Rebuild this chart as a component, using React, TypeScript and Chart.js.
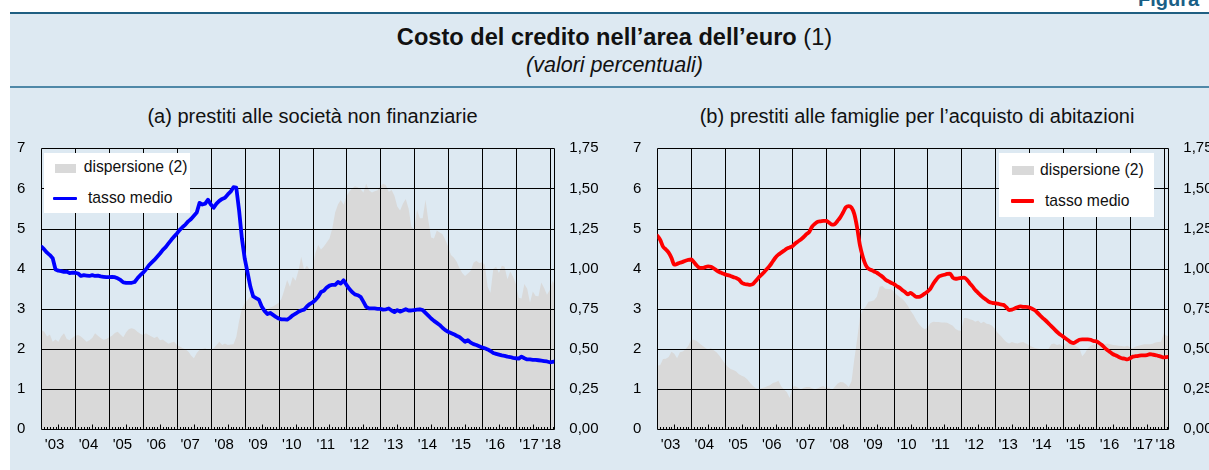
import React, { useEffect, useRef } from 'react';
import { Chart, registerables } from 'chart.js';

Chart.register(...registerables);

// ---------------- DATA ----------------
const START_YEAR = 2003; // first month: January 2003, monthly through March 2018
const AXIS_END = 2018 + 1.6 / 12;

const yearLabels = ["'03", "'04", "'05", "'06", "'07", "'08", "'09", "'10", "'11", "'12", "'13", "'14", "'15", "'16", "'17", "'18"];
const leftTicks = [0, 1, 2, 3, 4, 5, 6, 7];
const rightTicks = [0, 0.25, 0.5, 0.75, 1, 1.25, 1.5, 1.75];

// (a) non-financial corporations: average rate (%)
const nfcRate = [
  4.55, 4.48, 4.40, 4.34, 4.26, 3.98, 3.95, 3.94, 3.92, 3.93, 3.89, 3.90,
  3.90, 3.88, 3.82, 3.84, 3.83, 3.82, 3.84, 3.82, 3.83, 3.81, 3.80, 3.79,
  3.79, 3.80, 3.79, 3.76, 3.72, 3.66, 3.65, 3.65, 3.65, 3.67, 3.76, 3.84,
  3.90, 3.98, 4.08, 4.15, 4.22, 4.30, 4.38, 4.47, 4.54, 4.63, 4.72, 4.80,
  4.88, 4.97, 5.04, 5.10, 5.18, 5.24, 5.32, 5.40, 5.64, 5.60, 5.62, 5.72,
  5.60, 5.52, 5.62, 5.69, 5.74, 5.77, 5.85, 5.92, 6.03, 6.02, 5.45, 4.75,
  4.25, 3.90, 3.55, 3.31, 3.27, 3.23, 3.06, 2.95, 2.87, 2.90, 2.85, 2.80,
  2.76, 2.74, 2.74, 2.73, 2.78, 2.84, 2.88, 2.93, 2.96, 2.98, 3.06, 3.12,
  3.16, 3.22, 3.30, 3.42, 3.45, 3.53, 3.58, 3.60, 3.60, 3.67, 3.63, 3.71,
  3.60, 3.50, 3.42, 3.36, 3.34, 3.30, 3.18, 3.05, 3.01, 3.01, 3.01, 3.00,
  3.00, 2.98, 2.99, 3.01, 2.96, 2.92, 2.97, 2.93, 2.96, 2.99, 2.96, 2.96,
  2.97, 2.98, 2.99, 2.97, 2.90, 2.83, 2.76, 2.70, 2.65, 2.60, 2.53, 2.47,
  2.43, 2.40, 2.37, 2.33, 2.30, 2.24, 2.18, 2.22, 2.16, 2.12, 2.10, 2.07,
  2.04, 2.02, 1.99, 1.95, 1.90, 1.88, 1.86, 1.84, 1.83, 1.81, 1.80, 1.78,
  1.77, 1.76, 1.81, 1.77, 1.74, 1.74, 1.73, 1.73, 1.72, 1.71, 1.70, 1.69,
  1.67, 1.68, 1.69,
];

// (a) non-financial corporations: dispersion (right axis)
const nfcDispersion = [
  0.618, 0.608, 0.578, 0.590, 0.545, 0.560, 0.545, 0.578, 0.598, 0.563, 0.555, 0.570,
  0.583, 0.588, 0.578, 0.563, 0.545, 0.555, 0.568, 0.598, 0.583, 0.568, 0.558, 0.563,
  0.573, 0.583, 0.600, 0.608, 0.590, 0.573, 0.605, 0.625, 0.630, 0.623, 0.608, 0.595,
  0.588, 0.598, 0.588, 0.578, 0.568, 0.578, 0.555, 0.560, 0.545, 0.533, 0.540, 0.545,
  0.525, 0.515, 0.505, 0.498, 0.485, 0.460, 0.443, 0.475, 0.495, 0.500, 0.505, 0.495,
  0.495, 0.505, 0.525, 0.545, 0.525, 0.535, 0.525, 0.528, 0.530, 0.575, 0.675, 0.750,
  0.785, 0.805, 0.828, 0.823, 0.810, 0.780, 0.760, 0.745, 0.748, 0.758, 0.765, 0.775,
  0.788, 0.813, 0.868, 0.930, 0.888, 0.950, 0.925, 0.988, 1.075, 0.993, 1.018, 0.993,
  1.003, 1.098, 1.148, 1.120, 1.138, 1.163, 1.188, 1.250, 1.350, 1.400, 1.428, 1.398,
  1.450, 1.480, 1.500, 1.513, 1.508, 1.495, 1.475, 1.530, 1.488, 1.475, 1.483, 1.488,
  1.513, 1.530, 1.520, 1.480, 1.490, 1.455, 1.388, 1.363, 1.405, 1.435, 1.375, 1.263,
  1.243, 1.368, 1.315, 1.315, 1.430, 1.300, 1.195, 1.188, 1.238, 1.225, 1.215, 1.180,
  1.138, 1.085, 1.070, 1.045, 1.005, 0.973, 0.955, 0.970, 0.988, 1.038, 1.050, 1.035,
  1.040, 1.025, 0.888, 0.850, 1.000, 1.013, 0.973, 1.018, 1.013, 0.935, 0.983, 0.950,
  0.905, 0.820, 0.815, 0.905, 0.875, 0.790, 0.858, 0.830, 0.828, 0.915, 0.880, 0.838,
  0.868, 0.925, 0.888,
];

// (b) households for house purchase: average rate (%)
const hhRate = [
  4.82, 4.72, 4.55, 4.48, 4.40, 4.27, 4.10, 4.12, 4.15, 4.17, 4.20, 4.22,
  4.23, 4.16, 4.08, 4.02, 4.02, 4.04, 4.06, 4.05, 4.01, 3.96, 3.92, 3.89,
  3.86, 3.84, 3.82, 3.79, 3.77, 3.73, 3.65, 3.62, 3.61, 3.60, 3.62, 3.70,
  3.78, 3.85, 3.92, 4.00, 4.08, 4.18, 4.28, 4.35, 4.40, 4.45, 4.50, 4.53,
  4.56, 4.63, 4.68, 4.73, 4.79, 4.86, 4.92, 5.05, 5.12, 5.17, 5.18, 5.19,
  5.19, 5.15, 5.10, 5.11, 5.19, 5.28, 5.40, 5.53, 5.56, 5.52, 5.36, 5.02,
  4.58, 4.30, 4.10, 4.00, 3.97, 3.93, 3.90, 3.85, 3.80, 3.73, 3.69, 3.65,
  3.62, 3.57, 3.53, 3.47, 3.42, 3.36, 3.40, 3.35, 3.30, 3.30, 3.33, 3.38,
  3.43, 3.50, 3.62, 3.72, 3.80, 3.83, 3.85, 3.87, 3.88, 3.78, 3.75, 3.76,
  3.77, 3.78, 3.73, 3.64, 3.56, 3.47, 3.40, 3.33, 3.27, 3.22, 3.17, 3.15,
  3.14, 3.13, 3.11, 3.10, 3.04, 2.97, 2.98, 3.01, 3.04, 3.06, 3.05, 3.05,
  3.04, 3.01, 2.97, 2.91, 2.84, 2.77, 2.71, 2.64, 2.57, 2.50, 2.43, 2.37,
  2.32, 2.27, 2.22, 2.17, 2.15, 2.19, 2.23, 2.24, 2.24, 2.24, 2.23, 2.20,
  2.19, 2.15, 2.10, 2.03, 1.97, 1.92, 1.87, 1.84, 1.80, 1.77, 1.76, 1.74,
  1.77, 1.81, 1.82, 1.83, 1.84, 1.84, 1.85, 1.87, 1.86, 1.85, 1.83, 1.81,
  1.79, 1.80, 1.81,
];

// (b) households for house purchase: dispersion (right axis)
const hhDispersion = [
  0.395, 0.400, 0.438, 0.440, 0.450, 0.483, 0.470, 0.443, 0.480, 0.485, 0.498, 0.520,
  0.558, 0.558, 0.550, 0.535, 0.520, 0.508, 0.495, 0.505, 0.493, 0.480, 0.460, 0.435,
  0.410, 0.390, 0.375, 0.370, 0.360, 0.343, 0.333, 0.325, 0.310, 0.288, 0.270, 0.255,
  0.250, 0.255, 0.260, 0.268, 0.275, 0.288, 0.293, 0.303, 0.268, 0.248, 0.233, 0.195,
  0.265, 0.268, 0.258, 0.250, 0.258, 0.263, 0.263, 0.255, 0.250, 0.255, 0.263, 0.270,
  0.255, 0.260, 0.243, 0.263, 0.283, 0.295, 0.293, 0.280, 0.263, 0.300, 0.438, 0.563,
  0.700, 0.743, 0.763, 0.795, 0.798, 0.803, 0.825, 0.888, 0.893, 0.875, 0.873, 0.873,
  0.858, 0.840, 0.825, 0.813, 0.795, 0.770, 0.738, 0.713, 0.680, 0.655, 0.635, 0.623,
  0.633, 0.660, 0.670, 0.668, 0.668, 0.665, 0.665, 0.663, 0.655, 0.645, 0.625, 0.615,
  0.613, 0.693, 0.693, 0.685, 0.680, 0.670, 0.678, 0.660, 0.670, 0.658, 0.655, 0.645,
  0.625, 0.600, 0.583, 0.563, 0.543, 0.535, 0.543, 0.538, 0.535, 0.540, 0.543, 0.535,
  0.525, 0.515, 0.508, 0.503, 0.500, 0.498, 0.495, 0.500, 0.530, 0.535, 0.525, 0.530,
  0.515, 0.535, 0.540, 0.530, 0.525, 0.515, 0.505, 0.455, 0.475, 0.505, 0.520, 0.528,
  0.525, 0.525, 0.525, 0.530, 0.535, 0.530, 0.525, 0.523, 0.520, 0.518, 0.515, 0.520,
  0.513, 0.505, 0.515, 0.520, 0.525, 0.530, 0.530, 0.530, 0.533, 0.540, 0.543, 0.545,
  0.598, 0.583, 0.578,
];

// ---------------- STYLE ----------------
const FONT = '"Liberation Sans", Arial, Helvetica, sans-serif';
const BG = '#dde9f2';
const GRAY = '#d9d9d9';

Chart.defaults.font.family = FONT;

const toPoints = (arr: number[]) => arr.map((v, i) => ({ x: START_YEAR + i / 12, y: v }));

// tick label positions: middle of each year (partial last year), nudged slightly left
const labelValues = yearLabels.map((_, i) => {
  const s = START_YEAR + i;
  const e = Math.min(s + 1, AXIS_END);
  return (s + e) / 2 - (e - s < 1 ? 0.02 : 0.11);
});

const gridPlugin = {
  id: 'gridOverFill',
  afterDatasetDraw(chart: any, args: any) {
    if (args.index !== 0) return;
    const { ctx, chartArea: a, scales } = chart;
    const xs = scales.x;
    const ys = scales.y;
    const al = (v: number) => Math.round(v) + 0.5;
    ctx.save();
    ctx.strokeStyle = '#000';
    ctx.lineWidth = 1;
    ctx.beginPath();
    for (const v of leftTicks) {
      const py = al(ys.getPixelForValue(v));
      ctx.moveTo(al(a.left), py);
      ctx.lineTo(al(a.right), py);
    }
    const lastYear = Math.floor(AXIS_END);
    for (let yr = START_YEAR + 1; yr <= lastYear; yr++) {
      const px = al(xs.getPixelForValue(yr));
      ctx.moveTo(px, al(a.top));
      ctx.lineTo(px, al(a.bottom));
    }
    ctx.moveTo(al(a.left), al(a.top));
    ctx.lineTo(al(a.left), al(a.bottom));
    ctx.moveTo(al(a.right), al(a.top));
    ctx.lineTo(al(a.right), al(a.bottom));
    // monthly minor ticks
    const nMonths = Math.floor((AXIS_END - START_YEAR) * 12);
    const by = al(a.bottom);
    for (let m = 1; m <= nMonths; m++) {
      if (m % 12 === 0) continue;
      const px = al(xs.getPixelForValue(START_YEAR + m / 12));
      const h = m % 12 === 6 ? 5 : 2.5;
      ctx.moveTo(px, by);
      ctx.lineTo(px, by - h);
    }
    ctx.stroke();
    ctx.restore();
  },
};

type Geo = { width: number; height: number; left: number; right: number; top: number; bottom: number };
type Fit = { padTop: number; xH: number; yW: number; y1W: number };

const noPad = (s: any) => {
  s.paddingTop = 0;
  s.paddingBottom = 0;
  s.paddingLeft = 0;
  s.paddingRight = 0;
};

function makeConfig(rate: number[], disp: number[], color: string, smooth: boolean, f: Fit): any {
  return {
    type: 'line',
    data: {
      datasets: [
        {
          label: 'dispersione (2)',
          data: toPoints(disp),
          yAxisID: 'y1',
          fill: 'origin',
          backgroundColor: GRAY,
          borderWidth: 0,
          pointRadius: 0,
          tension: 0,
          order: 2,
        },
        {
          label: 'tasso medio',
          data: toPoints(rate),
          yAxisID: 'y',
          fill: false,
          borderColor: color,
          borderWidth: 3.8,
          pointRadius: 0,
          tension: smooth ? 0.4 : 0,
          cubicInterpolationMode: smooth ? 'monotone' : 'default',
          borderJoinStyle: 'round',
          borderCapStyle: 'round',
          order: 1,
        },
      ],
    },
    options: {
      animation: false,
      responsive: false,
      maintainAspectRatio: false,
      events: [],
      layout: { padding: { top: f.padTop, left: 0, right: 0, bottom: 0 } },
      plugins: { legend: { display: false }, tooltip: { enabled: false }, title: { display: false } },
      scales: {
        x: {
          type: 'linear',
          min: START_YEAR,
          max: AXIS_END,
          grid: { display: false, drawTicks: false },
          border: { display: false },
          afterBuildTicks: (s: any) => {
            s.ticks = labelValues.map((v) => ({ value: v }));
          },
          afterFit: (s: any) => {
            s.height = f.xH;
            noPad(s);
          },
          ticks: {
            autoSkip: false,
            maxRotation: 0,
            minRotation: 0,
            padding: 7,
            color: '#000',
            font: { size: 15 },
            callback: (_v: any, i: number) => yearLabels[i],
          },
        },
        y: {
          position: 'left',
          min: 0,
          max: 7,
          grid: { display: false, drawTicks: false },
          border: { display: false },
          afterBuildTicks: (s: any) => {
            s.ticks = leftTicks.map((v) => ({ value: v }));
          },
          afterFit: (s: any) => {
            s.width = f.yW;
            noPad(s);
          },
          ticks: { padding: 16, color: '#000', font: { size: 15 }, callback: (v: any) => String(v) },
        },
        y1: {
          position: 'right',
          min: 0,
          max: 1.75,
          grid: { display: false, drawTicks: false },
          border: { display: false },
          afterBuildTicks: (s: any) => {
            s.ticks = rightTicks.map((v) => ({ value: v }));
          },
          afterFit: (s: any) => {
            s.width = f.y1W;
            noPad(s);
          },
          ticks: {
            padding: 15,
            color: '#000',
            font: { size: 15 },
            callback: (v: any) => Number(v).toFixed(2).replace('.', ','),
          },
        },
      },
    },
    plugins: [gridPlugin],
  };
}

function Panel(props: { rate: number[]; disp: number[]; color: string; smooth: boolean; x: number; g: Geo }) {
  const ref = useRef<HTMLCanvasElement | null>(null);
  useEffect(() => {
    if (!ref.current) return;
    const g = props.g;
    const f: Fit = { padTop: g.top, xH: g.height - g.bottom, yW: g.left, y1W: g.width - g.right };
    const chart = new Chart(ref.current, makeConfig(props.rate, props.disp, props.color, props.smooth, f));
    // pin the plot area to the wanted rectangle
    for (let k = 0; k < 4; k++) {
      const a = chart.chartArea;
      const dt = g.top - a.top;
      const db = g.bottom - a.bottom;
      const dl = g.left - a.left;
      const dr = g.right - a.right;
      if (Math.abs(dt) + Math.abs(db) + Math.abs(dl) + Math.abs(dr) < 0.05) break;
      f.padTop += dt;
      f.xH -= db;
      f.yW += dl;
      f.y1W -= dr;
      chart.options.layout.padding = { top: f.padTop, left: 0, right: 0, bottom: 0 };
      chart.update();
    }
    return () => chart.destroy();
  }, []);
  return (
    <canvas
      ref={ref}
      width={props.g.width}
      height={props.g.height}
      style={{ position: 'absolute', left: props.x, top: 130, width: props.g.width, height: props.g.height, display: 'block' }}
    />
  );
}

function Legend(props: {
  left: number; top: number; width: number; height: number; color: string;
  sw: [number, number]; t1: [number, number]; ln: [number, number]; t2: [number, number];
}) {
  const txt: React.CSSProperties = {
    position: 'absolute', fontSize: 15.7, lineHeight: '18px', whiteSpace: 'nowrap', color: '#111', fontFamily: FONT,
  };
  return (
    <div style={{ position: 'absolute', left: props.left, top: props.top, width: props.width, height: props.height, background: '#fff' }}>
      <div style={{ position: 'absolute', left: props.sw[0], top: props.sw[1], width: 21.5, height: 9, background: GRAY }} />
      <div style={{ ...txt, left: props.t1[0], top: props.t1[1] }}>dispersione (2)</div>
      <div style={{ position: 'absolute', left: props.ln[0], top: props.ln[1], width: 23.5, height: 3.6, background: props.color, borderRadius: 1 }} />
      <div style={{ ...txt, left: props.t2[0], top: props.t2[1] }}>tasso medio</div>
    </div>
  );
}

export default function App() {
  const leftGeo: Geo = { width: 605, height: 330, left: 41.4, right: 554.3, top: 18.3, bottom: 299.3 };
  const rightGeo: Geo = { width: 604, height: 330, left: 52.4, right: 563.3, top: 18.3, bottom: 299.3 };
  return (
    <div style={{ position: 'absolute', left: 0, top: 0, width: 1209, height: 470, overflow: 'hidden', background: '#fff', fontFamily: FONT, color: '#111' }}>
      <div style={{ position: 'absolute', left: 1138, top: -11.5, fontSize: 20, lineHeight: '20px', fontWeight: 'bold', color: '#1a5f86', whiteSpace: 'nowrap' }}>Figura</div>
      <div style={{ position: 'absolute', left: 10, top: 12, width: 1220, height: 460, background: BG, borderTop: '2px solid #1f5f82' }} />
      <div style={{ position: 'absolute', left: 10, top: 86, width: 1220, height: 2, background: '#4f88a8' }} />
      <div style={{ position: 'absolute', left: 10, top: 22.5, width: 1209, textAlign: 'center', fontSize: 23.6, lineHeight: '28px', whiteSpace: 'nowrap' }}>
        <span style={{ fontWeight: 'bold' }}>Costo del credito nell’area dell’euro</span> (1)
      </div>
      <div style={{ position: 'absolute', left: 10, top: 53, width: 1209, textAlign: 'center', fontSize: 21.5, lineHeight: '24px', fontStyle: 'italic', whiteSpace: 'nowrap' }}>
        (valori percentuali)
      </div>
      <div style={{ position: 'absolute', left: 12.5, top: 104, width: 600, textAlign: 'center', fontSize: 20, lineHeight: '24px', whiteSpace: 'nowrap' }}>
        (a) prestiti alle società non finanziarie
      </div>
      <div style={{ position: 'absolute', left: 617, top: 104, width: 600, textAlign: 'center', fontSize: 20, lineHeight: '24px', whiteSpace: 'nowrap' }}>
        (b) prestiti alle famiglie per l’acquisto di abitazioni
      </div>

      <Panel rate={nfcRate} disp={nfcDispersion} color="#0000ff" smooth={false} x={0} g={leftGeo} />
      <Panel rate={hhRate} disp={hhDispersion} color="#ff0000" smooth={true} x={605} g={rightGeo} />

      <Legend left={44} top={153} width={146} height={60} color="#0000ff" sw={[10.7, 10.5]} t1={[39.7, 5.3]} ln={[9, 43.5]} t2={[44, 35.9]} />
      <Legend left={999} top={153} width={155} height={64} color="#ff0000" sw={[13.3, 13]} t1={[41, 7.6]} ln={[11.7, 46.2]} t2={[46, 38.6]} />
    </div>
  );
}
